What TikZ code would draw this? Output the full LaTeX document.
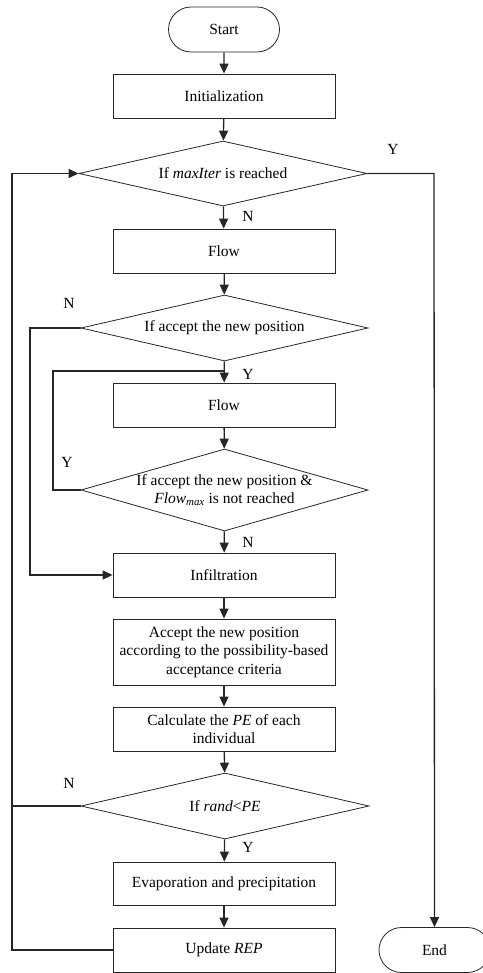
\documentclass[tikz,border=0pt]{standalone}
\usepackage{fontspec}
\setmainfont{Liberation Serif}
\usetikzlibrary{shapes.geometric,arrows.meta}
\definecolor{ink}{gray}{0.15}
\tikzset{
  box/.style={draw=ink, line width=0.8pt, rectangle, minimum width=222pt, minimum height=44pt, inner sep=0pt, align=center, font=\fontsize{15.5}{18.5}\selectfont},
  term/.style={draw=ink, line width=0.8pt, rounded rectangle, minimum width=111pt, minimum height=45pt, inner sep=0pt, font=\fontsize{15.5}{18.5}\selectfont},
  dia/.style={draw=ink, line width=0.8pt, diamond, inner sep=0pt},
  txt/.style={align=center, inner sep=0pt, font=\fontsize{15.5}{18.5}\selectfont},
  lab/.style={inner sep=0pt, font=\fontsize{15.5}{18.5}\selectfont},
  conn/.style={draw=ink, line width=1.3pt},
  arr/.style={conn, -{Triangle[length=10pt,width=9pt]}}
}
\usetikzlibrary{shapes.misc}
\begin{document}
\begin{tikzpicture}[x=1pt,y=-1pt]
\useasboundingbox (0,0) rectangle (482,973);
% nodes
\node[term] (start) at (224,29.5) {Start};
\node[box] (init) at (224,96) {Initialization};
\node[dia, minimum width=288pt, minimum height=65pt] (d1) at (223,173.5) {};
\node[txt] (t1) at (d1) {If \textit{maxIter} is reached};
\node[box] (flow1) at (224,251) {Flow};
\node[dia, minimum width=287pt, minimum height=66pt] (d2) at (224.5,328) {};
\node[txt] (t2) at (d2) {If accept the new position};
\node[box] (flow2) at (224,405) {Flow};
\node[dia, minimum width=287pt, minimum height=82pt] (d3) at (224.5,490) {};
\node[txt] (t3) at (d3) {If accept the new position \&\\\textit{Flow}\textsubscript{\textit{max}} is not reached};
\node[box] (infil) at (224,575) {Infiltration};
\node[box, minimum height=66pt] (acc) at (224,652) {Accept the new position\\according to the possibility-based\\acceptance criteria};
\node[box] (calc) at (224,729) {Calculate the \textit{PE} of each\\individual};
\node[dia, minimum width=288pt, minimum height=66pt] (d4) at (225,806) {};
\node[txt] (t4) at (d4) {If \textit{rand}<\textit{PE}};
\node[box, minimum height=43pt] (evap) at (224,883.5) {Evaporation and precipitation};
\node[box] (upd) at (224,950) {Update \textit{REP}};
\node[term] (end) at (434.5,950) {End};
% labels
\node[lab] (y1) at (393,149) {Y};
\node[lab] (n1) at (248,216) {N};
\node[lab] (n2) at (69,303) {N};
\node[lab] (y2) at (248,374) {Y};
\node[lab] (y3) at (67,462) {Y};
\node[lab] (n3) at (248,542) {N};
\node[lab] (n4) at (69,783) {N};
\node[lab] (y4) at (248,847) {Y};
% helper coordinates
\coordinate (xL) at (12,0);
\coordinate (xM) at (30,0);
\coordinate (xI) at (53,0);
\coordinate (xR) at (434,0);
\coordinate (join) at (224,371);
% straight connectors
\draw[arr] (start) -- (init);
\draw[arr] (init) -- (d1);
\draw[arr] (d1) -- (flow1);
\draw[arr] (flow1) -- (d2);
\draw[arr] (d2) -- (flow2);
\draw[arr] (flow2) -- (d3);
\draw[arr] (d3) -- (infil);
\draw[arr] (infil) -- (acc);
\draw[arr] (acc) -- (calc);
\draw[arr] (calc) -- (d4);
\draw[arr] (d4) -- (evap);
\draw[arr] (evap) -- (upd);
% loops
\draw[arr] (upd.west) -- (upd.west -| xL) -- (d1.west -| xL) -- (d1.west);
\draw[conn] (d4.west) -- (d4.west -| xL);
\draw[arr] (d2.west) -- (d2.west -| xM) -- (infil.west -| xM) -- (infil.west);
\draw[conn] (d3.west) -- (d3.west -| xI) -- (join -| xI) -- (join);
\draw[arr] (d1.east) -- (d1.east -| xR) -- (end.north);
\end{tikzpicture}
\end{document}
